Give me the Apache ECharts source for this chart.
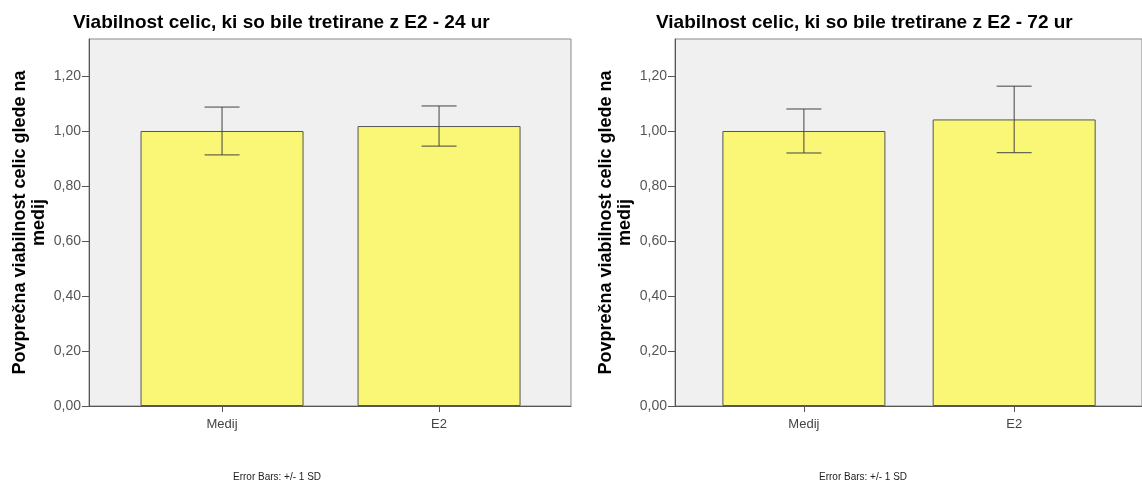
<!DOCTYPE html>
<html>
<head>
<meta charset="utf-8">
<script src="https://cdn.jsdelivr.net/npm/echarts@6/dist/echarts.min.js"></script>
<style>
  html, body { margin: 0; padding: 0; background: #fff; }
  #chart { width: 1142px; height: 481px; }
</style>
</head>
<body>
<div id="chart"></div>
<script>
// data
var categories = ['Medij', 'E2'];
var means24 = [1.00, 1.018];
var sd24 = [0.087, 0.073];
var means72 = [1.00, 1.042];
var sd72 = [0.080, 0.121];
var yTicks = [0, 0.2, 0.4, 0.6, 0.8, 1.0, 1.2];
var chartTitles = [
  'Viabilnost celic, ki so bile tretirane z E2 - 24 ur',
  'Viabilnost celic, ki so bile tretirane z E2 - 72 ur'
];
var yTitle = 'Povprečna viabilnost celic glede na\nmedij';
var footNote = 'Error Bars: +/- 1 SD';

var font = 'Arial, "Liberation Sans", sans-serif';
var panels = [
  { left: 89, means: means24, sd: sd24 },
  { left: 675, means: means72, sd: sd72 }
];

var chartDom = document.getElementById('chart');
var myChart = echarts.init(chartDom);

var option = {
  animation: false,
  title: [],
  grid: [],
  xAxis: [],
  yAxis: [],
  series: []
};

panels.forEach(function (p, i) {
  option.title.push({
    text: chartTitles[i],
    left: p.left - 21 - i * 3,
    top: 8,
    textStyle: { fontFamily: font, fontSize: 19, fontWeight: 'bold', color: '#000' }
  });
  option.title.push({
    text: footNote,
    left: p.left + 139,
    top: 467,
    textStyle: { fontFamily: font, fontSize: 10, fontWeight: 'normal', color: '#222' }
  });
  option.grid.push({
    left: p.left,
    top: 39,
    width: 482,
    height: 367,
    show: true,
    backgroundColor: '#f0f0f0',
    borderColor: '#8a8a8a',
    borderWidth: 1
  });
  option.xAxis.push({
    type: 'value',
    gridIndex: i,
    min: -0.613,
    max: 1.608,
    axisLine: { show: true, onZero: false, lineStyle: { color: '#555', width: 1 } },
    axisTick: { show: true, length: 6, customValues: [0, 1], lineStyle: { color: '#555' } },
    axisLabel: {
      customValues: [0, 1],
      margin: 12,
      color: '#444',
      fontFamily: font,
      fontSize: 13,
      formatter: function (v) { return categories[Math.round(v)]; }
    },
    splitLine: { show: false }
  });
  option.yAxis.push({
    type: 'value',
    gridIndex: i,
    min: 0,
    max: 1.3345,
    name: yTitle,
    nameLocation: 'middle',
    nameGap: 40,
    nameTextStyle: { fontFamily: font, fontSize: 18, fontWeight: 'bold', color: '#000', lineHeight: 19, align: 'center' },
    axisLine: { show: true, onZero: false, lineStyle: { color: '#555', width: 1 } },
    axisTick: { show: true, length: 7, customValues: yTicks, lineStyle: { color: '#555' } },
    axisLabel: {
      customValues: yTicks,
      margin: 8,
      color: '#555',
      fontFamily: font,
      fontSize: 14,
      formatter: function (v) { return v.toFixed(2).replace('.', ','); }
    },
    splitLine: { show: false }
  });
  option.series.push({
    type: 'bar',
    xAxisIndex: i,
    yAxisIndex: i,
    barWidth: 163,
    data: p.means.map(function (m, k) { return [k, m]; }),
    itemStyle: { color: '#f9f775', borderColor: '#555', borderWidth: 1 },
    z: 2
  });
  option.series.push({
    type: 'custom',
    xAxisIndex: i,
    yAxisIndex: i,
    data: p.means.map(function (m, k) { return [k, m - p.sd[k], m + p.sd[k]]; }),
    renderItem: function (params, api) {
      var lo = api.coord([api.value(0), api.value(1)]);
      var hi = api.coord([api.value(0), api.value(2)]);
      var w = 17.5;
      var st = { stroke: '#444', lineWidth: 1 };
      return {
        type: 'group',
        children: [
          { type: 'line', shape: { x1: lo[0], y1: lo[1], x2: hi[0], y2: hi[1] }, style: st },
          { type: 'line', shape: { x1: lo[0] - w, y1: lo[1], x2: lo[0] + w, y2: lo[1] }, style: st },
          { type: 'line', shape: { x1: hi[0] - w, y1: hi[1], x2: hi[0] + w, y2: hi[1] }, style: st }
        ]
      };
    },
    z: 3
  });
});

option && myChart.setOption(option);
</script>
</body>
</html>
